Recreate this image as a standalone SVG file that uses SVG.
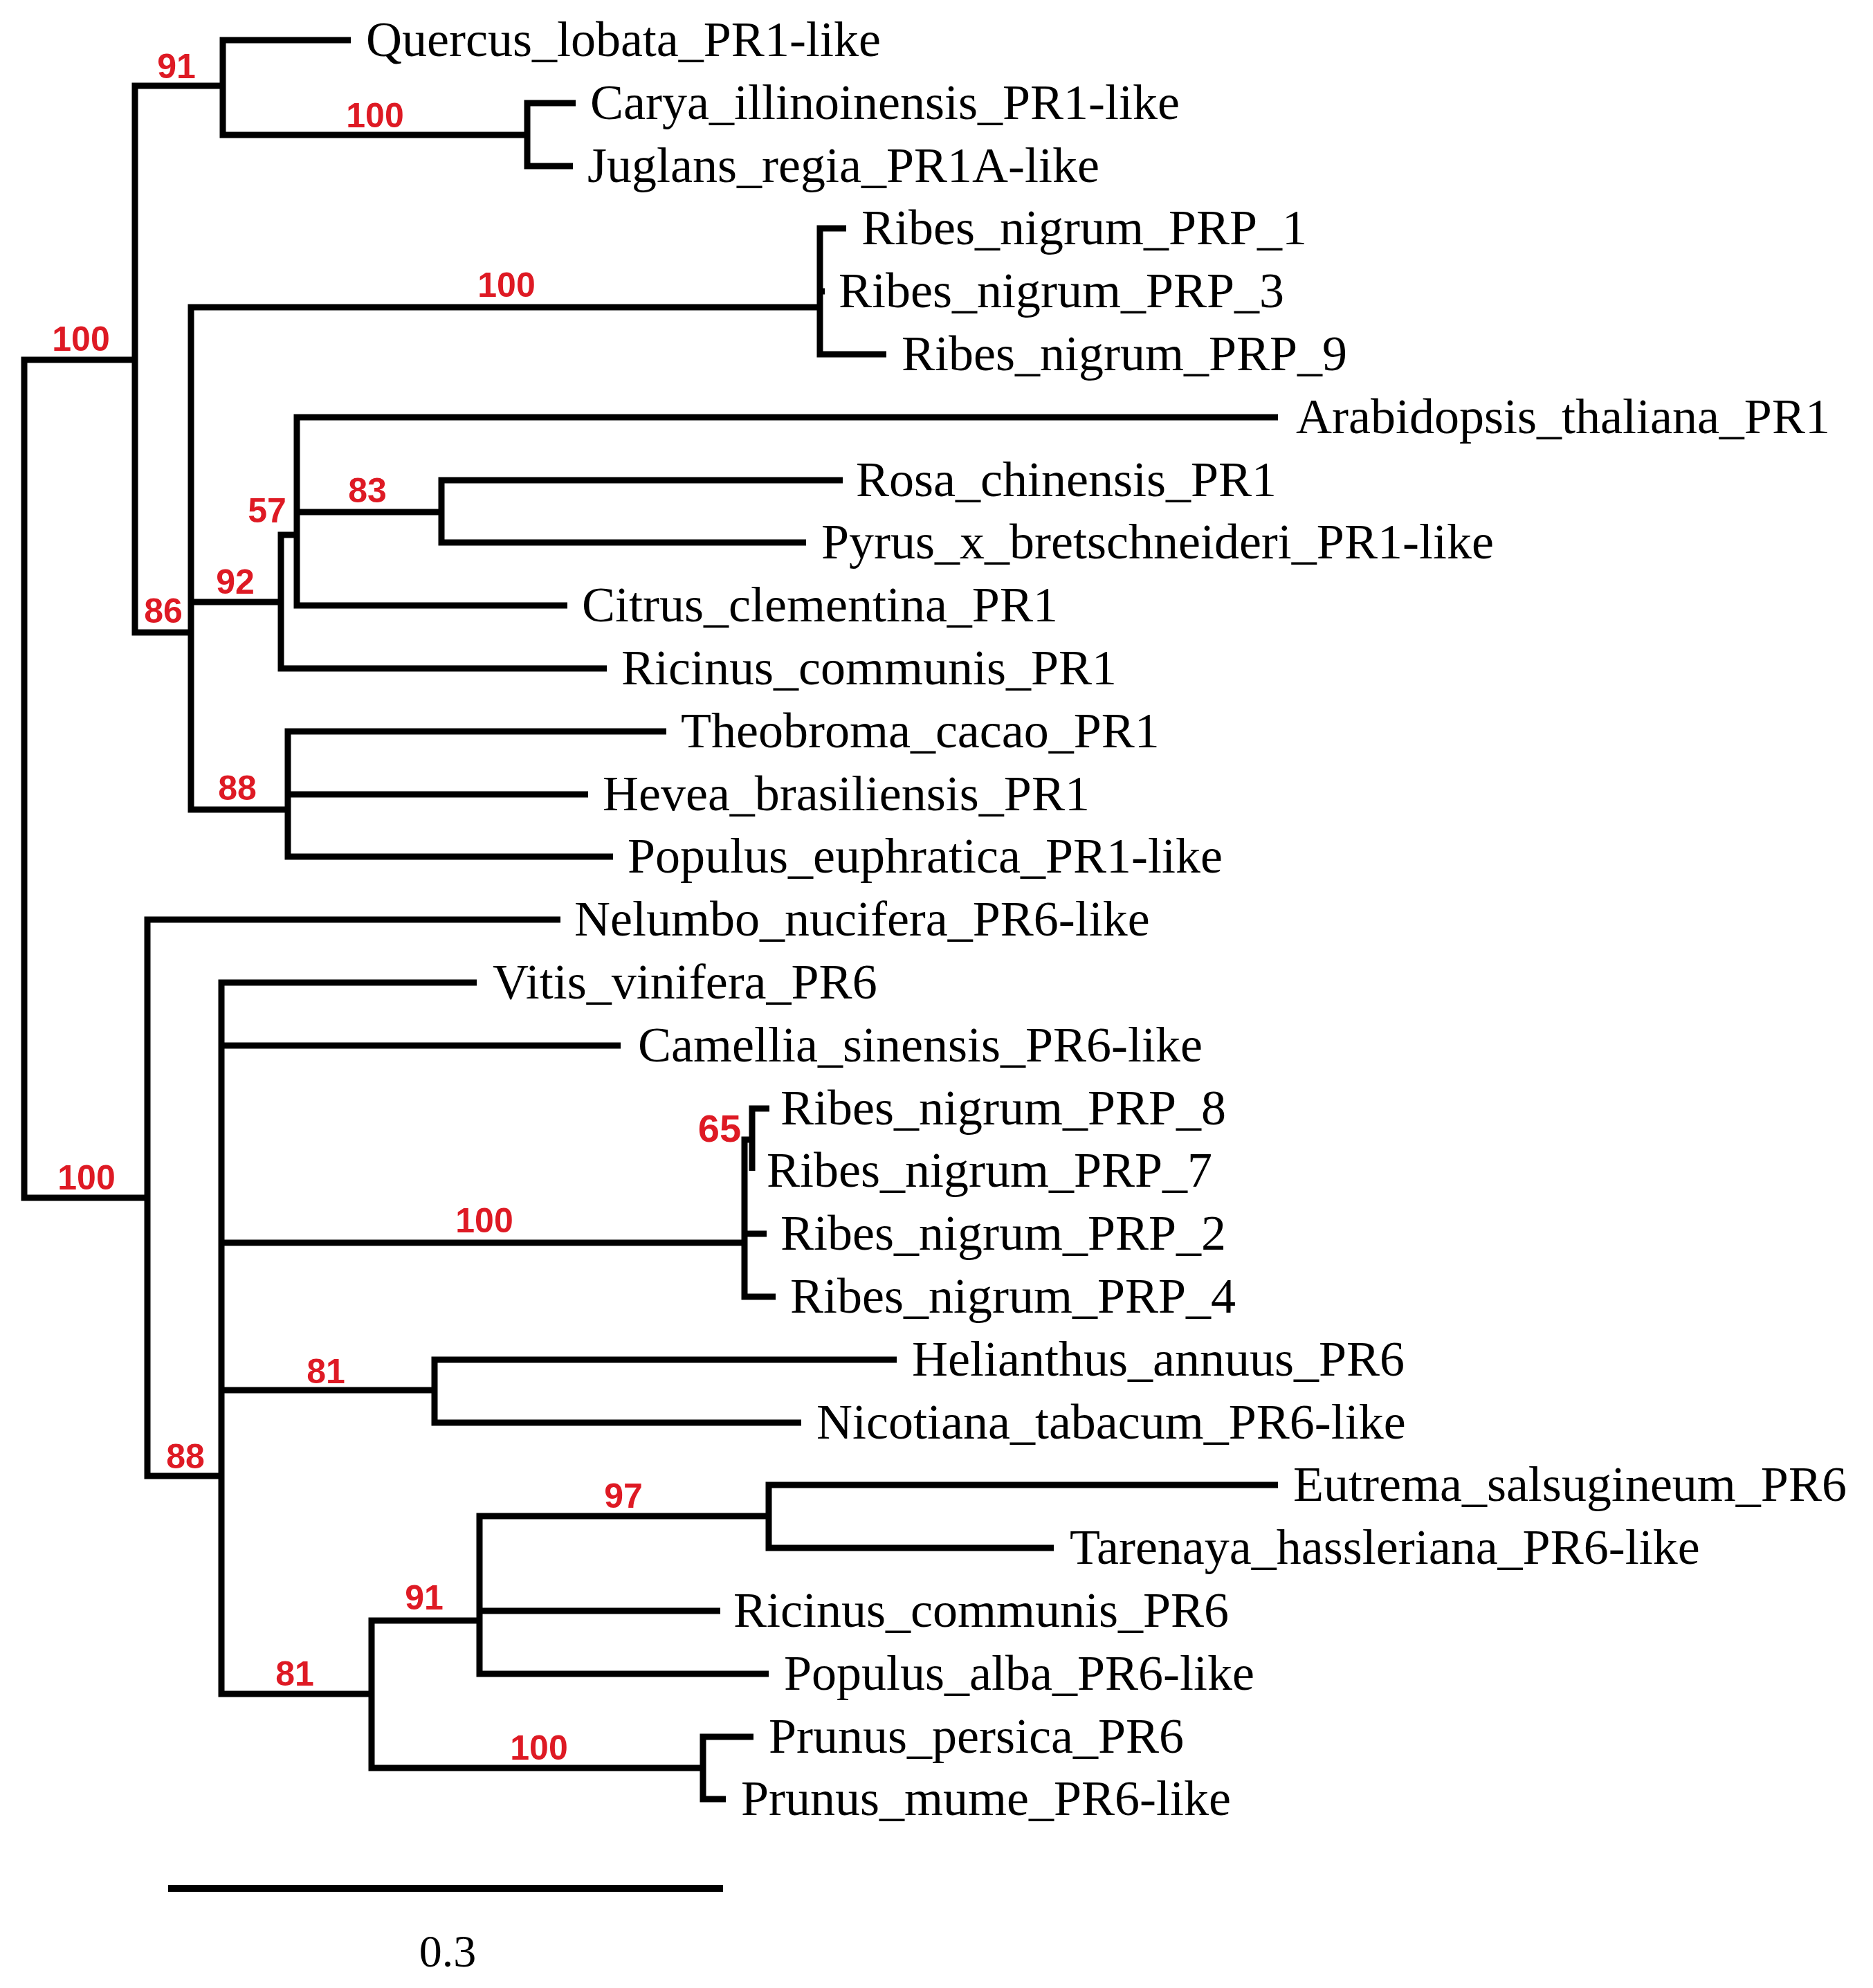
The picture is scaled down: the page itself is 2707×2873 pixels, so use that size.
<svg xmlns="http://www.w3.org/2000/svg" width="2707" height="2873" viewBox="0 0 2707 2873">
<style>
.br{fill:none;stroke:#000;stroke-width:9;stroke-linejoin:miter;stroke-linecap:butt}
.leaf{font-family:"Liberation Serif","Times New Roman",serif;font-size:72px;fill:#000}
.bs{font-family:"Liberation Sans",Arial,sans-serif;font-size:50px;font-weight:bold;fill:#de1a24;text-anchor:middle}
.scale{font-family:"Liberation Serif","Times New Roman",serif;font-size:66px;fill:#000;text-anchor:middle}
</style>
<rect width="2707" height="2873" fill="#fff"/>
<g id="connectors">
<path class="br" d="M195 520 H35 V1731 H213"/>
<path class="br" d="M322 124 H195 V914 H276"/>
<path class="br" d="M507 58 H322 V195 H762"/>
<path class="br" d="M832 149 H762 V240 H828"/>
<path class="br" d="M1185 444 H276 V1170 H416 M276 870 H406"/>
<path class="br" d="M1223 330 H1185 V512 H1281 M1185 421 H1192"/>
<path class="br" d="M429 773 H406 V966 H877"/>
<path class="br" d="M1847 603 H429 V875 H820 M429 740 H638"/>
<path class="br" d="M1218 694 H638 V784 H1165"/>
<path class="br" d="M963 1057 H416 V1238 H886 M416 1148 H850"/>
<path class="br" d="M810 1329 H213 V2133 H320"/>
<path class="br" d="M689 1420 H320 V2448 H537 M320 1511 H897 M320 1796 H1076 M320 2009 H628"/>
<path class="br" d="M1087 1647 H1076 V1874 H1121 M1076 1783 H1108"/>
<path class="br" d="M1112 1602 H1087 V1692"/>
<path class="br" d="M1296 1965 H628 V2056 H1158"/>
<path class="br" d="M693 2342 H537 V2555 H1016"/>
<path class="br" d="M1111 2191 H693 V2419 H1111 M693 2328 H1041"/>
<path class="br" d="M1847 2146 H1111 V2237 H1523"/>
<path class="br" d="M1089 2510 H1016 V2600 H1049"/>
</g>
<g id="leaves">
<g id="leaf-quercus"><text class="leaf" x="529" y="81">Quercus_lobata_PR1-like</text></g>
<g id="leaf-carya"><text class="leaf" x="853" y="172">Carya_illinoinensis_PR1-like</text></g>
<g id="leaf-juglans"><text class="leaf" x="849" y="263">Juglans_regia_PR1A-like</text></g>
<g id="leaf-prp1"><text class="leaf" x="1245" y="353">Ribes_nigrum_PRP_1</text></g>
<g id="leaf-prp3"><text class="leaf" x="1212" y="444">Ribes_nigrum_PRP_3</text></g>
<g id="leaf-prp9"><text class="leaf" x="1303" y="535">Ribes_nigrum_PRP_9</text></g>
<g id="leaf-arabidopsis"><text class="leaf" x="1873" y="626">Arabidopsis_thaliana_PR1</text></g>
<g id="leaf-rosa"><text class="leaf" x="1237" y="717">Rosa_chinensis_PR1</text></g>
<g id="leaf-pyrus"><text class="leaf" x="1187" y="807">Pyrus_x_bretschneideri_PR1-like</text></g>
<g id="leaf-citrus"><text class="leaf" x="841" y="898">Citrus_clementina_PR1</text></g>
<g id="leaf-ricinus1"><text class="leaf" x="898" y="989">Ricinus_communis_PR1</text></g>
<g id="leaf-theobroma"><text class="leaf" x="984" y="1080">Theobroma_cacao_PR1</text></g>
<g id="leaf-hevea"><text class="leaf" x="871" y="1171">Hevea_brasiliensis_PR1</text></g>
<g id="leaf-populus-eu"><text class="leaf" x="907" y="1261">Populus_euphratica_PR1-like</text></g>
<g id="leaf-nelumbo"><text class="leaf" x="830" y="1352">Nelumbo_nucifera_PR6-like</text></g>
<g id="leaf-vitis"><text class="leaf" x="712" y="1443">Vitis_vinifera_PR6</text></g>
<g id="leaf-camellia"><text class="leaf" x="922" y="1534">Camellia_sinensis_PR6-like</text></g>
<g id="leaf-prp8"><text class="leaf" x="1128" y="1625">Ribes_nigrum_PRP_8</text></g>
<g id="leaf-prp7"><text class="leaf" x="1108" y="1715">Ribes_nigrum_PRP_7</text></g>
<g id="leaf-prp2"><text class="leaf" x="1128" y="1806">Ribes_nigrum_PRP_2</text></g>
<g id="leaf-prp4"><text class="leaf" x="1142" y="1897">Ribes_nigrum_PRP_4</text></g>
<g id="leaf-helianthus"><text class="leaf" x="1318" y="1988">Helianthus_annuus_PR6</text></g>
<g id="leaf-nicotiana"><text class="leaf" x="1180" y="2079">Nicotiana_tabacum_PR6-like</text></g>
<g id="leaf-eutrema"><text class="leaf" x="1869" y="2169">Eutrema_salsugineum_PR6</text></g>
<g id="leaf-tarenaya"><text class="leaf" x="1546" y="2260">Tarenaya_hassleriana_PR6-like</text></g>
<g id="leaf-ricinus6"><text class="leaf" x="1060" y="2351">Ricinus_communis_PR6</text></g>
<g id="leaf-populus-alba"><text class="leaf" x="1133" y="2442">Populus_alba_PR6-like</text></g>
<g id="leaf-prunus-persica"><text class="leaf" x="1111" y="2533">Prunus_persica_PR6</text></g>
<g id="leaf-prunus-mume"><text class="leaf" x="1071" y="2623">Prunus_mume_PR6-like</text></g>
</g>
<g id="supports">
<g id="node-root-top"><text class="bs" x="117" y="507">100</text></g>
<g id="node-91a"><text class="bs" x="255" y="113">91</text></g>
<g id="node-cj"><text class="bs" x="542" y="184">100</text></g>
<g id="node-ribes1"><text class="bs" x="732" y="429">100</text></g>
<g id="node-86"><text class="bs" x="236" y="900">86</text></g>
<g id="node-92"><text class="bs" x="340" y="858">92</text></g>
<g id="node-57"><text class="bs" x="386" y="755">57</text></g>
<g id="node-83"><text class="bs" x="531" y="726">83</text></g>
<g id="node-88a"><text class="bs" x="343" y="1156">88</text></g>
<g id="node-root-bottom"><text class="bs" x="125" y="1719">100</text></g>
<g id="node-88b"><text class="bs" x="268" y="2122">88</text></g>
<g id="node-ribes2"><text class="bs" x="700" y="1781">100</text></g>
<g id="node-65"><text class="bs" x="1040" y="1650" style="font-size:56px">65</text></g>
<g id="node-81a"><text class="bs" x="471" y="1999">81</text></g>
<g id="node-97"><text class="bs" x="901" y="2179">97</text></g>
<g id="node-91b"><text class="bs" x="613" y="2326">91</text></g>
<g id="node-81b"><text class="bs" x="426" y="2436">81</text></g>
<g id="node-prunus"><text class="bs" x="779" y="2543">100</text></g>
</g>
<g id="scale-bar">
<line x1="243" y1="2729" x2="1045" y2="2729" stroke="#000" stroke-width="10"/>
<text class="scale" x="647" y="2842">0.3</text>
</g>
</svg>
